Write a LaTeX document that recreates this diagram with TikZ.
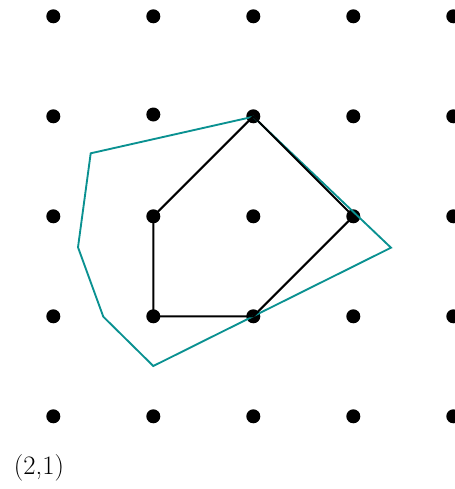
\documentclass[tikz,border=0pt]{standalone}
\begin{document}
\begin{tikzpicture}[x=0.75pt,y=-0.75pt,
  gdot/.style={circle,fill=black,inner sep=0pt,minimum size=10.5pt},
  blackpoly/.style={draw=black,line width=1.5pt,line join=round},
  tealpoly/.style={draw=tealc,line width=1.4pt,line join=miter}]
\definecolor{tealc}{RGB}{10,145,145}
\useasboundingbox (0,0) rectangle (454,489);
\foreach \i in {0,...,4}{
  \foreach \j in {0,...,4}{
    \ifnum\i=1 \ifnum\j=1
      \node[gdot] (d\i\j) at (153.3,114.5) {};
    \else
      \node[gdot] (d\i\j) at ({53.3+100*\i},{16.3+100*\j}) {};
    \fi
    \else
      \node[gdot] (d\i\j) at ({53.3+100*\i},{16.3+100*\j}) {};
    \fi
  }
}
% teal polygon vertices
\coordinate (t1) at (90.7,153.3);
\coordinate (t2) at (253.3,116.7);
\coordinate (t3) at (391,247.7);
\coordinate (t4) at (153.3,366);
\coordinate (t5) at (103.3,316.7);
\coordinate (t6) at (78,247.3);
\draw[tealpoly] (t1) -- (t2) -- (t3) -- (t4) -- (t5) -- (t6) -- cycle;
\draw[blackpoly] (d12.center) -- (d21.center) -- (d32.center) -- (d23.center) -- (d13.center) -- cycle;
\node[font=\fontsize{20}{24}\selectfont,inner sep=0pt] (lbl) at (39,468) {(2,1)};
\end{tikzpicture}
\end{document}
